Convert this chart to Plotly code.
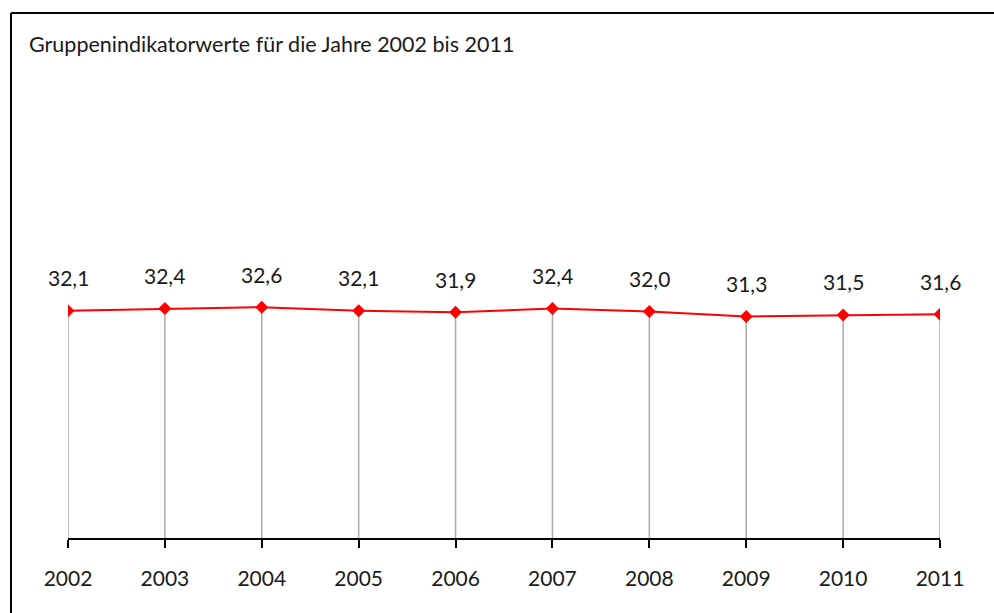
import plotly.graph_objects as go

years = [2002, 2003, 2004, 2005, 2006, 2007, 2008, 2009, 2010, 2011]
values = [32.1, 32.4, 32.6, 32.1, 31.9, 32.4, 32.0, 31.3, 31.5, 31.6]
title_text = "Gruppenindikatorwerte für die Jahre 2002 bis 2011"

W, H = 994, 613
FONT = "Lato, 'Open Sans', sans-serif"
TXT = "#1a1a1a"

# drop lines built from the data
dx, dy = [], []
for x, v in zip(years, values):
    dx += [x, x, None]
    dy += [v, 0, None]

fig = go.Figure()
fig.add_trace(go.Scatter(x=dx, y=dy, mode="lines",
                         line=dict(color="#ababab", width=1.5),
                         hoverinfo="skip", showlegend=False))
fig.add_trace(go.Scatter(x=years, y=values, mode="lines+markers",
                         line=dict(color="#ff0000", width=2),
                         marker=dict(symbol="diamond", size=10, color="#ff0000"),
                         showlegend=False))

for x, v in zip(years, values):
    fig.add_annotation(x=x, y=v, text=f"{v:.1f}".replace(".", ","),
                       showarrow=False, yshift=33,
                       font=dict(family=FONT, size=21, color=TXT))

px_per_unit = 7.08
top_px, bottom_px = 80, 538
ymax = (bottom_px - top_px) / px_per_unit

fig.update_layout(
    template="none",
    width=W, height=H,
    margin=dict(l=0, r=0, t=0, b=0, autoexpand=False),
    paper_bgcolor="white", plot_bgcolor="white",
    xaxis=dict(domain=[68 / W, 940 / W], range=[years[0], years[-1]],
               automargin=False,
               tickmode="array", tickvals=years, ticktext=[str(y) for y in years],
               showgrid=False, zeroline=False, showline=True,
               linecolor="#000000", linewidth=1.5,
               ticks="outside", ticklen=8, tickcolor="#000000", tickwidth=1.5,
               ticklabelstandoff=13,
               tickfont=dict(family=FONT, size=21, color=TXT)),
    yaxis=dict(domain=[(H - bottom_px) / H, (H - top_px) / H], range=[0, ymax],
               automargin=False,
               visible=False, showgrid=False, zeroline=False),
    shapes=[
        dict(type="line", xref="paper", yref="paper",
             x0=11 / W, x1=1.0, y0=(H - 13) / H, y1=(H - 13) / H,
             line=dict(color="#000000", width=2)),
        dict(type="line", xref="paper", yref="paper",
             x0=11 / W, x1=11 / W, y0=0, y1=(H - 13) / H,
             line=dict(color="#000000", width=2)),
    ],
)
fig.add_annotation(xref="paper", yref="paper", x=27 / W, y=(H - 44) / H,
                   xanchor="left", yanchor="middle", showarrow=False,
                   text=title_text, font=dict(family=FONT, size=21.5, color=TXT))

fig.write_html("out.html", config={"displayModeBar": False})
